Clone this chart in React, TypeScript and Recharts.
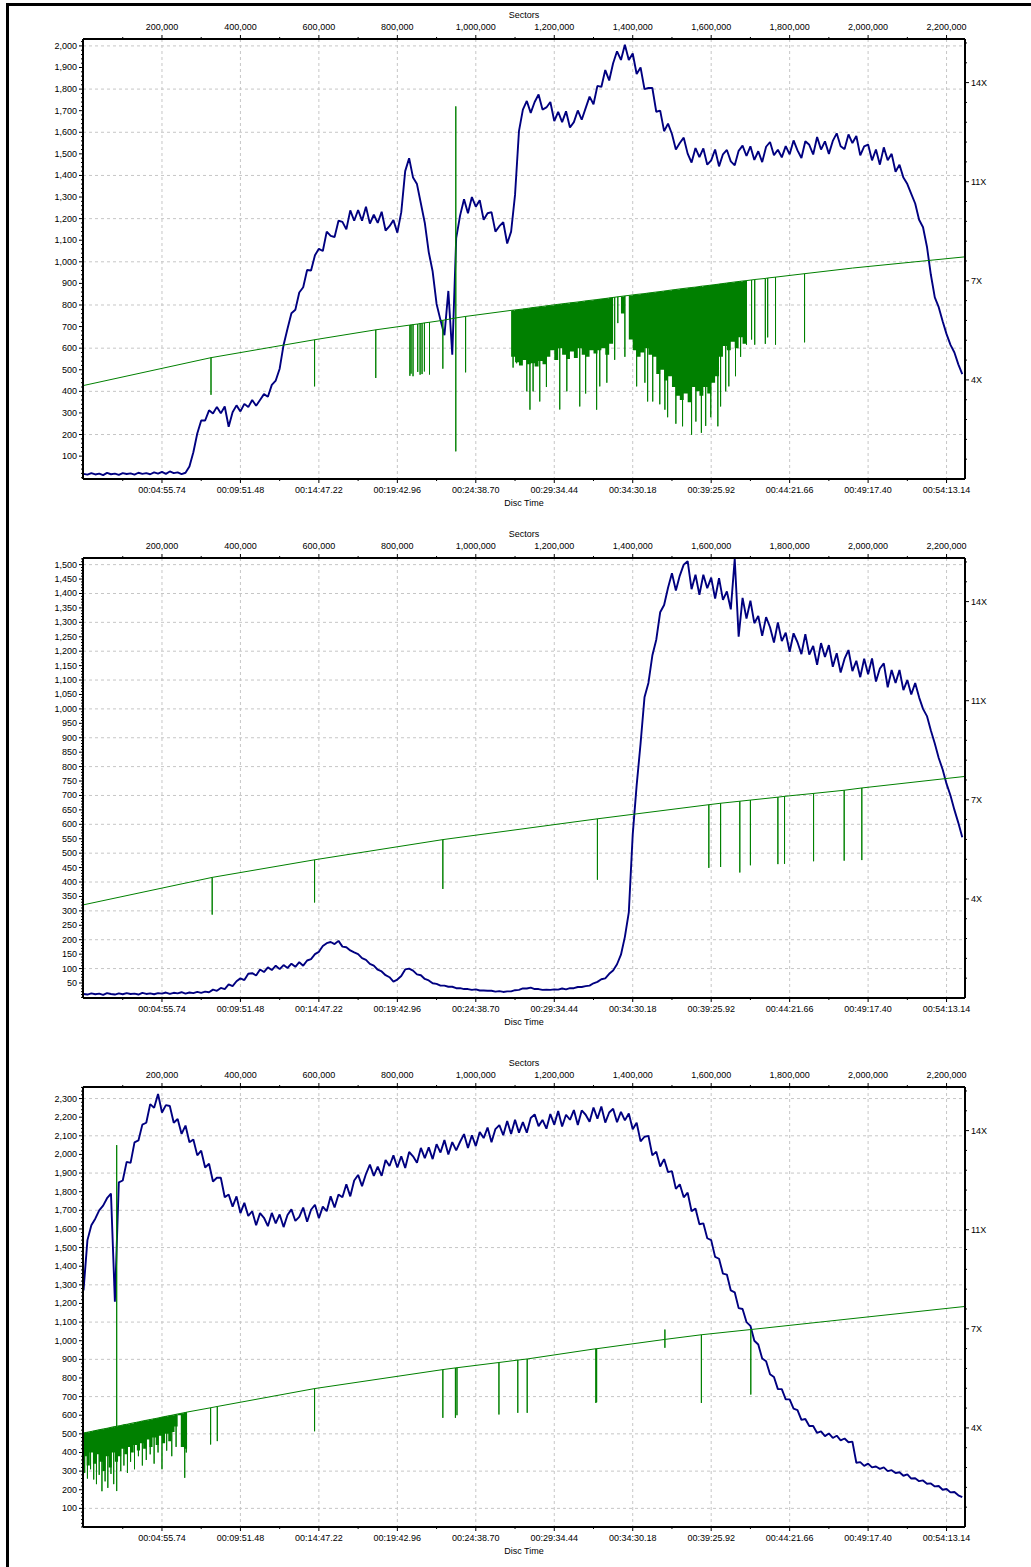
import React from "react";
import { ComposedChart, Line, Area, XAxis, YAxis, CartesianGrid } from "recharts";

const FONT = "'Liberation Sans', Arial, sans-serif";
const STEP = 10000; // sectors between blue samples
const X_DOMAIN = [-1300, 2247000];

const sectorMajor = [200000, 400000, 600000, 800000, 1000000, 1200000, 1400000, 1600000, 1800000, 2000000, 2200000];
const sectorLabels = ["200,000", "400,000", "600,000", "800,000", "1,000,000", "1,200,000", "1,400,000", "1,600,000", "1,800,000", "2,000,000", "2,200,000"];
const timeLabels = ["00:04:55.74", "00:09:51.48", "00:14:47.22", "00:19:42.96", "00:24:38.70", "00:29:34.44", "00:34:30.18", "00:39:25.92", "00:44:21.66", "00:49:17.40", "00:54:13.14"];
const speedLabels: Record<number, string> = { 5: "4X", 10: "7X", 15: "11X", 20: "14X" };

// transfer rate, one value every STEP sectors
const blue1 = [
  18, 14, 21, 15, 19, 12, 22, 16, 19, 13,
  21, 17, 20, 14, 23, 18, 21, 16, 25, 19,
  27, 18, 29, 21, 25, 17, 23, 52, 118, 205,
  265, 265, 312, 297, 328, 298, 330, 236, 303, 335,
  307, 342, 327, 360, 333, 360, 387, 375, 430, 450,
  505, 615, 690, 762, 778, 858, 882, 962, 960, 1030,
  1060, 1050, 1140, 1120, 1115, 1190, 1185, 1150, 1238, 1190,
  1240, 1190, 1255, 1177, 1218, 1180, 1232, 1145, 1165, 1193,
  1135, 1230, 1420, 1480, 1390, 1360, 1270, 1180, 1045, 955,
  805, 730, 660, 865, 570, 1110, 1215, 1290, 1225, 1300,
  1255, 1285, 1195, 1225, 1230, 1140, 1165, 1183, 1085, 1140,
  1310, 1605, 1705, 1745, 1690, 1740, 1775, 1705, 1715, 1740,
  1652, 1695, 1647, 1697, 1622, 1647, 1701, 1658, 1712, 1765,
  1730, 1815, 1810, 1888, 1840, 1920, 1975, 1935, 2005, 1935,
  1965, 1870, 1900, 1800, 1805, 1805, 1695, 1700, 1605, 1640,
  1592, 1520, 1550, 1575, 1501, 1460, 1527, 1485, 1525, 1450,
  1470, 1520, 1442, 1498, 1518, 1465, 1447, 1514, 1538, 1490,
  1535, 1472, 1512, 1462, 1533, 1555, 1494, 1519, 1484, 1536,
  1498, 1562, 1516, 1481, 1558, 1542, 1497, 1578, 1520, 1558,
  1500, 1560, 1595, 1535, 1522, 1590, 1550, 1583, 1493, 1535,
  1543, 1470, 1520, 1450, 1530, 1470, 1500, 1417, 1450, 1390,
  1360, 1315, 1270, 1195, 1160, 1070, 940, 835, 790, 725,
  665, 615, 580, 525, 480,
];

const blue2 = [
  12, 10, 14, 11, 13, 9, 15, 12, 10, 14,
  11, 15, 12, 13, 10, 16, 12, 14, 11, 15,
  13, 17, 12, 16, 14, 18, 13, 17, 15, 19,
  16, 20, 18, 27, 23, 33, 29, 45, 39, 56,
  66, 60, 82, 84, 76, 97, 88, 104, 95, 110,
  98, 112, 102, 117, 106, 122, 110, 128, 133, 150,
  158, 178, 188, 192, 185, 196, 176, 174, 163, 156,
  150, 136, 130, 116, 110, 96, 90, 77, 70, 55,
  62, 74, 97, 100, 93, 80, 77, 64, 59, 49,
  47, 41, 41, 37, 37, 32, 32, 29, 29, 26,
  28, 24, 24, 23, 23, 20, 22, 19, 21, 21,
  25, 26, 31, 31, 34, 29, 29, 26, 27, 26,
  28, 27, 31, 28, 32, 32, 36, 36, 39, 41,
  49, 54, 63, 66, 82, 93, 115, 148, 210, 295,
  565, 735, 880, 1040, 1090, 1185, 1240, 1335, 1360, 1420,
  1470, 1410, 1462, 1500, 1512, 1415, 1465, 1395, 1465, 1418,
  1455, 1382, 1453, 1378, 1407, 1345, 1520, 1250, 1385, 1313,
  1375, 1297, 1322, 1253, 1318, 1283, 1230, 1300, 1235, 1264,
  1198, 1262, 1231, 1190, 1259, 1188, 1218, 1153, 1228, 1180,
  1221, 1146, 1193, 1126, 1174, 1204, 1131, 1167, 1110, 1174,
  1120, 1175, 1095, 1140, 1158, 1075, 1135, 1090, 1135, 1065,
  1100, 1050, 1090, 1040, 1000, 975, 925, 880, 830, 790,
  740, 700, 650, 605, 555,
];

const blue3 = [
  1270, 1540, 1620, 1655, 1700, 1725, 1765, 1790, 1210, 1850,
  1860, 1960, 1955, 2065, 2075, 2160, 2170, 2270, 2250, 2325,
  2225, 2265, 2260, 2170, 2190, 2110, 2155, 2065, 2080, 1995,
  2020, 1930, 1950, 1855, 1875, 1875, 1770, 1785, 1720, 1775,
  1685, 1740, 1670, 1695, 1620, 1685, 1660, 1615, 1686, 1630,
  1678, 1610, 1675, 1705, 1643, 1665, 1715, 1639, 1703, 1730,
  1658, 1720, 1695, 1775, 1715, 1785, 1770, 1840, 1775, 1860,
  1890, 1830, 1895, 1945, 1885, 1935, 1885, 1970, 1938, 1995,
  1930, 1990, 1927, 2013, 1990, 1955, 2035, 1980, 2038, 1975,
  2055, 2010, 2077, 2000, 2066, 2022, 2068, 2109, 2035, 2103,
  2045, 2120, 2088, 2144, 2065, 2136, 2157, 2103, 2179, 2110,
  2186, 2117, 2173, 2117, 2196, 2215, 2152, 2185, 2138, 2217,
  2160, 2233, 2150, 2213, 2186, 2238, 2158, 2236, 2213, 2175,
  2252, 2192, 2257, 2171, 2225, 2245, 2173, 2229, 2183, 2220,
  2135, 2170, 2070, 2095, 2100, 1995, 2015, 1935, 1975, 1905,
  1910, 1815, 1840, 1770, 1795, 1695, 1710, 1625, 1630, 1550,
  1540, 1450, 1440, 1360, 1355, 1270, 1260, 1175, 1170, 1100,
  1080, 1000, 980, 905, 890, 820, 805, 740, 740, 685,
  685, 635, 627, 575, 580, 542, 542, 505, 513, 488,
  502, 478, 490, 465, 475, 455, 458, 345, 348, 328,
  340, 320, 325, 312, 320, 300, 305, 290, 294, 275,
  282, 260, 262, 246, 250, 232, 234, 218, 220, 200,
  204, 186, 188, 170, 160,
];

// green speed line: [sector, value]
const green1Base = [[0, 67], [0, 427], [325000, 556], [589000, 639], [745000, 685], [974000, 747], [1090000, 775], [1690000, 913], [1838000, 945], [1960000, 971], [2247000, 1023]];
const green2Base = [[0, 50], [0, 321], [328000, 416], [589000, 477], [916000, 547], [1310000, 619], [1594000, 668], [1861000, 707], [1984000, 726], [2247000, 766]];
const green3Base = [[0, 57], [0, 507], [264000, 617], [324000, 640], [589000, 743], [916000, 845], [1306000, 957], [1575000, 1032], [1701000, 1060], [2247000, 1184]];

// spikes: [sector, line value, extreme(s)]
const green1Spikes = [
  [325000, 556, 384], [589000, 639, 423], [745000, 685, 462], [832000, 707, 472], [835000, 708, 482],
  [840000, 709, 470], [852000, 712, 490], [858000, 714, 477], [863000, 715, 480], [869000, 717, 492],
  [882000, 720, 478], [916000, 729, 505], [949000, 740, 1720, 122], [974000, 747, 488],
  [1095000, 776, 510], [1104000, 778, 530], [1130000, 784, 400], [1138000, 786, 315], [1146000, 788, 400],
  [1163000, 792, 353], [1180000, 796, 420], [1214000, 804, 316], [1232000, 808, 400], [1265000, 815, 330],
  [1280000, 819, 390], [1308000, 825, 315], [1316000, 827, 423], [1334000, 831, 440], [1354000, 836, 546],
  [1362000, 838, 716], [1380000, 842, 560], [1410000, 849, 423], [1431000, 853, 440], [1438000, 855, 353],
  [1451000, 858, 353], [1469000, 862, 340], [1482000, 865, 315], [1489000, 867, 280], [1510000, 872, 250],
  [1527000, 876, 238], [1550000, 881, 199], [1561000, 883, 260], [1575000, 887, 208], [1586000, 889, 240],
  [1599000, 892, 280], [1617000, 896, 238], [1624000, 898, 330], [1637000, 901, 400], [1645000, 903, 423],
  [1662000, 907, 470], [1675000, 910, 560], [1690000, 913, 616], [1703000, 916, 640], [1711000, 918, 616],
  [1738000, 923, 620], [1744000, 925, 650], [1764000, 929, 616], [1838000, 945, 627],
];
const green2Spikes = [
  [328000, 416, 287], [589000, 477, 329], [916000, 547, 376], [1310000, 619, 408], [1594000, 668, 449],
  [1624000, 673, 452], [1673000, 680, 433], [1700000, 684, 458], [1770000, 694, 462], [1787000, 697, 463],
  [1861000, 707, 472], [1939000, 718, 474], [1984000, 726, 476],
];
const green3Spikes = [
  [3000, 506, 290], [10000, 509, 260], [18000, 512, 310], [26000, 516, 255], [33000, 519, 230],
  [40000, 522, 280], [47000, 525, 192], [55000, 528, 245], [62000, 531, 210], [70000, 535, 285],
  [77000, 538, 230], [84600, 541, 2050, 193], [95000, 545, 300], [103000, 549, 330], [112000, 552, 290],
  [120000, 556, 350], [130000, 560, 310], [140000, 564, 380], [150000, 569, 330], [160000, 573, 360],
  [170000, 577, 390], [180000, 581, 340], [190000, 585, 400], [200000, 590, 310], [212000, 595, 410],
  [225000, 600, 380], [236000, 605, 430], [258000, 614, 264], [262000, 616, 400], [324000, 640, 443],
  [341000, 647, 461], [589000, 743, 514], [916000, 845, 586], [948000, 854, 586], [952000, 855, 600],
  [1059000, 883, 604], [1107000, 896, 613], [1131000, 902, 613], [1306000, 957, 666], [1308000, 957, 670],
  [1482000, 1007, 1060, 962], [1575000, 1032, 666], [1701000, 1060, 711],
];

// dense retry blocks: [sector, line value, lower edge]
const mass1 = [
  [1090000, 775, 560], [1100000, 777, 535], [1110000, 780, 520], [1120000, 782, 545], [1130000, 784, 525],
  [1140000, 787, 530], [1150000, 789, 515], [1160000, 791, 540], [1170000, 793, 525], [1180000, 796, 560],
  [1190000, 798, 590], [1200000, 800, 545], [1210000, 803, 600], [1220000, 805, 570], [1230000, 807, 550],
  [1240000, 810, 585], [1250000, 812, 555], [1260000, 814, 600], [1270000, 816, 570], [1280000, 819, 560],
  [1290000, 821, 590], [1300000, 823, 575], [1310000, 826, 590], [1320000, 828, 600], [1330000, 830, 570],
  [1340000, 833, 620], [1350000, 835, 835], [1360000, 837, 837], [1370000, 839, 760], [1380000, 842, 842],
  [1390000, 844, 640], [1400000, 846, 590], [1410000, 849, 560], [1420000, 851, 580], [1430000, 853, 600],
  [1440000, 856, 570], [1450000, 858, 560], [1460000, 860, 480], [1470000, 862, 500], [1480000, 865, 450],
  [1490000, 867, 470], [1500000, 869, 420], [1510000, 872, 380], [1520000, 874, 360], [1530000, 876, 390],
  [1540000, 879, 350], [1550000, 881, 420], [1560000, 883, 400], [1570000, 885, 380], [1580000, 888, 420],
  [1590000, 890, 390], [1600000, 892, 440], [1610000, 895, 470], [1620000, 897, 560], [1630000, 899, 610],
  [1640000, 902, 590], [1650000, 904, 630], [1660000, 906, 600], [1670000, 908, 650], [1680000, 911, 620],
  [1690000, 913, 913],
];
const mass3 = [
  [0, 505, 380], [8000, 508, 330], [16000, 512, 400], [24000, 515, 340], [32000, 519, 390],
  [40000, 522, 350], [48000, 525, 300], [56000, 529, 380], [64000, 532, 320], [72000, 536, 400],
  [80000, 539, 350], [88000, 542, 380], [96000, 546, 420], [104000, 549, 390], [112000, 552, 430],
  [120000, 556, 400], [128000, 559, 440], [136000, 563, 410], [144000, 566, 450], [152000, 569, 420],
  [160000, 573, 470], [168000, 576, 430], [176000, 580, 480], [184000, 583, 440], [192000, 586, 490],
  [200000, 590, 450], [208000, 593, 500], [216000, 597, 460], [224000, 600, 510], [232000, 603, 540],
  [240000, 607, 600], [248000, 610, 430], [256000, 614, 420], [264000, 617, 617],
];

const minorX = Array.from({ length: 22 }, (_, k) => (k + 1) * 100000);
const speedTicks = Array.from({ length: 22 }, (_, k) => k + 1);

const topTick = (p: any) => {
  const { x, y, payload } = p;
  const idx = payload.value / 200000;
  const major = Number.isInteger(idx);
  return (
    <g>
      <line x1={x} x2={x} y1={y} y2={y - (major ? 4 : 2)} stroke="#000" />
      {major && (
        <text x={x} y={y - 9} textAnchor="middle" fontSize={9} fontFamily={FONT} fill="#000">
          {sectorLabels[idx - 1]}
        </text>
      )}
    </g>
  );
};

const bottomTick = (p: any) => {
  const { x, y, payload } = p;
  const idx = payload.value / 200000;
  const major = Number.isInteger(idx);
  return (
    <g>
      <line x1={x} x2={x} y1={y} y2={y + (major ? 4 : 2)} stroke="#000" />
      {major && (
        <text x={x} y={y + 14} textAnchor="middle" fontSize={9} fontFamily={FONT} fill="#000">
          {timeLabels[idx - 1]}
        </text>
      )}
    </g>
  );
};

const makeLeftTick = (labelEvery: number) => (p: any) => {
  const { x, y, payload } = p;
  const v = payload.value;
  const major = v > 0 && v % labelEvery === 0;
  return (
    <g>
      <line x1={x - (major ? 4 : 2)} x2={x} y1={y} y2={y} stroke="#000" />
      {major && (
        <text x={x - 6} y={y + 3} textAnchor="end" fontSize={9} fontFamily={FONT} fill="#000">
          {v.toLocaleString("en-US")}
        </text>
      )}
    </g>
  );
};

const rightTick = (p: any) => {
  const { x, y, payload } = p;
  const label = speedLabels[payload.value];
  return (
    <g>
      <line x1={x} x2={x + (label ? 4 : 2)} y1={y} y2={y} stroke="#000" />
      {label && (
        <text x={x + 6} y={y + 3} textAnchor="start" fontSize={9} fontFamily={FONT} fill="#000">
          {label}
        </text>
      )}
    </g>
  );
};

interface PanelProps {
  top: number;
  blue: number[];
  base: number[][];
  spikes: number[][];
  mass?: number[][];
  yDomain: number[];
  minor: number;
  major: number;
}

const Panel = ({ top, blue, base, spikes, mass, yDomain, minor, major }: PanelProps) => {
  const blueData = blue.map((v, i) => ({ s: i * STEP, v }));

  const green: { s: number; g: number }[] = [];
  base.forEach(([s, g]) => green.push({ s, g }));
  spikes.forEach(([s, b, ...ext]) => {
    green.push({ s, g: b });
    ext.forEach((e) => green.push({ s, g: e }));
    green.push({ s, g: b });
  });
  green.sort((a, b) => a.s - b.s);

  const massData = (mass || []).map(([s, t, l]) => ({ s, r: [l, t] }));

  const yTicks = Array.from({ length: Math.floor(yDomain[1] / minor) + 1 }, (_, k) => k * minor);
  const gridY = yTicks.filter((v) => v > 0 && v % major === 0);

  return (
    <div style={{ position: "absolute", left: 0, top, width: 1031, height: 520 }}>
      <ComposedChart width={1031} height={518} margin={{ top: 0, right: 26, bottom: 0, left: 0 }}>
        <XAxis
          xAxisId="top"
          orientation="top"
          type="number"
          dataKey="s"
          domain={X_DOMAIN}
          ticks={minorX}
          interval={0}
          height={38}
          tickSize={0}
          tickMargin={0}
          tickLine={false}
          axisLine={{ stroke: "#000", strokeWidth: 2 }}
          tick={topTick}
          allowDataOverflow
        />
        <XAxis
          xAxisId="b"
          orientation="bottom"
          type="number"
          dataKey="s"
          domain={X_DOMAIN}
          ticks={minorX}
          interval={0}
          height={40}
          tickSize={0}
          tickMargin={0}
          tickLine={false}
          axisLine={{ stroke: "#000", strokeWidth: 2 }}
          tick={bottomTick}
          allowDataOverflow
        />
        <YAxis
          yAxisId="v"
          orientation="left"
          type="number"
          domain={yDomain}
          ticks={yTicks}
          interval={0}
          width={83}
          tickSize={0}
          tickMargin={0}
          tickLine={false}
          axisLine={{ stroke: "#000", strokeWidth: 2 }}
          tick={makeLeftTick(major)}
          allowDataOverflow
        />
        <YAxis
          yAxisId="r"
          orientation="right"
          type="number"
          domain={[0, 22.2]}
          ticks={speedTicks}
          interval={0}
          width={40}
          tickSize={0}
          tickMargin={0}
          tickLine={false}
          axisLine={{ stroke: "#000", strokeWidth: 2 }}
          tick={rightTick}
          allowDataOverflow
        />
        <XAxis xAxisId="grid" type="number" dataKey="s" domain={X_DOMAIN} ticks={sectorMajor} height={0} hide allowDataOverflow />
        <YAxis yAxisId="grid" type="number" domain={yDomain} ticks={gridY} width={0} hide allowDataOverflow />
        <CartesianGrid xAxisId="grid" yAxisId="grid" stroke="#c6c6c6" strokeDasharray="3 3" />
        {mass && (
          <Area
            xAxisId="b"
            yAxisId="v"
            data={massData}
            dataKey="r"
            type="stepAfter"
            stroke="none"
            fill="#008000"
            fillOpacity={1}
            isAnimationActive={false}
          />
        )}
        <Line xAxisId="b" yAxisId="v" data={blueData} dataKey="v" type="linear" stroke="#000080" strokeWidth={1.9} strokeLinejoin="bevel" dot={false} isAnimationActive={false} />
        <Line xAxisId="b" yAxisId="v" data={green} dataKey="g" type="linear" stroke="#008000" strokeWidth={1} dot={false} isAnimationActive={false} />
      </ComposedChart>
      <div style={{ position: "absolute", left: 524, top: 14, transform: "translate(-50%, -50%)", font: `9px ${FONT}`, whiteSpace: "nowrap" }}>Sectors</div>
      <div style={{ position: "absolute", left: 524, top: 502, transform: "translate(-50%, -50%)", font: `9px ${FONT}`, whiteSpace: "nowrap" }}>Disc Time</div>
    </div>
  );
};

export default function App() {
  return (
    <div style={{ position: "absolute", left: 0, top: 0, width: 1031, height: 1567, overflow: "hidden", background: "#fff" }}>
      <div style={{ position: "absolute", left: 6, top: 3, width: 1100, height: 1700, borderLeft: "3px solid #000", borderTop: "3px solid #000" }} />
      <Panel top={1} blue={blue1} base={green1Base} spikes={green1Spikes} mass={mass1} yDomain={[-6, 2032]} minor={20} major={100} />
      <Panel top={520} blue={blue2} base={green2Base} spikes={green2Spikes} yDomain={[-2, 1523]} minor={10} major={50} />
      <Panel top={1049} blue={blue3} base={green3Base} spikes={green3Spikes} mass={mass3} yDomain={[0, 2362]} minor={20} major={100} />
    </div>
  );
}
